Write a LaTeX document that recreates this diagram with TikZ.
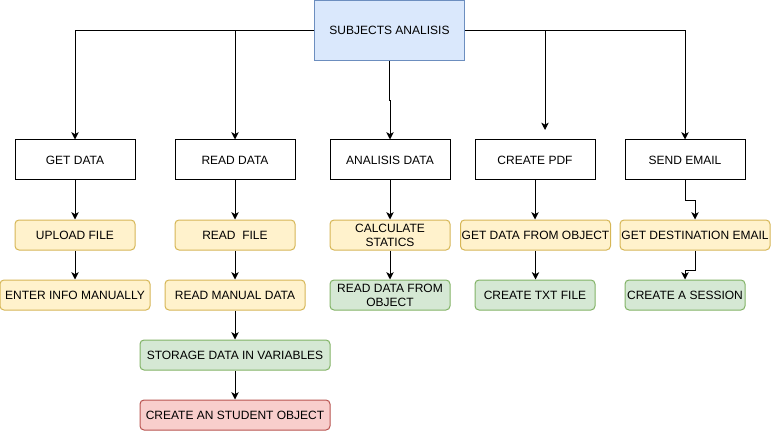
\documentclass[tikz,border=0pt]{standalone}
\usepackage{fontspec}
\setmainfont{Liberation Sans}
\usepackage{xcolor}
\usetikzlibrary{arrows.meta}
\definecolor{bluefill}{HTML}{DAE8FC}
\definecolor{blueline}{HTML}{6C8EBF}
\definecolor{yellowfill}{HTML}{FFF2CC}
\definecolor{yellowline}{HTML}{D6B656}
\definecolor{greenfill}{HTML}{D5E8D4}
\definecolor{greenline}{HTML}{82B366}
\definecolor{redfill}{HTML}{F8CECC}
\definecolor{redline}{HTML}{B85450}
\begin{document}
\begin{tikzpicture}[x=0.75pt,y=-0.75pt,line width=0.75pt,
  every node/.style={font=\fontsize{9}{10.5}\selectfont,align=center,inner sep=0pt},
  box/.style={draw,rectangle,minimum height=30pt},
  mainbox/.style={draw=blueline,fill=bluefill,minimum width=112.5pt,minimum height=45pt},
  yellowbox/.style={draw=yellowline,fill=yellowfill,rounded corners=3pt,minimum height=22.5pt},
  greenbox/.style={draw=greenline,fill=greenfill,rounded corners=3pt,minimum height=22.5pt},
  redbox/.style={draw=redline,fill=redfill,rounded corners=3pt,minimum height=22.5pt},
  arr/.style={-{Stealth[length=5.5pt,width=5.5pt,inset=1.5pt]}}]
\useasboundingbox (0,0) rectangle (771,431);

\node[mainbox] (top) at (389.5,30.5) {SUBJECTS ANALISIS};

\node[box,minimum width=90pt] (getdata) at (75,160) {GET DATA};
\node[box,minimum width=90pt] (readdata) at (235,160) {READ DATA};
\node[box,minimum width=90pt] (analisis) at (390,160) {ANALISIS DATA};
\node[box,minimum width=90pt] (createpdf) at (535,160) {CREATE PDF};
\node[box,minimum width=90pt] (sendemail) at (685,160) {SEND EMAIL};

\node[yellowbox,minimum width=90pt] (upload) at (75,235) {UPLOAD FILE};
\node[yellowbox,minimum width=90pt] (readfile) at (235,235) {READ\ \ FILE};
\node[yellowbox,minimum width=90pt] (calc) at (390,235) {CALCULATE\\STATICS};
\node[yellowbox,minimum width=112.5pt] (getobj) at (535.5,235) {GET DATA FROM OBJECT};
\node[yellowbox,minimum width=112.5pt] (getdest) at (695,235) {GET DESTINATION EMAIL};

\node[yellowbox,minimum width=112.5pt] (enter) at (75,295) {ENTER INFO MANUALLY};
\node[yellowbox,minimum width=105pt] (readmanual) at (235,295) {READ MANUAL DATA};
\node[greenbox,minimum width=90pt] (readobj) at (390,295) {READ DATA FROM\\OBJECT};
\node[greenbox,minimum width=90pt] (txt) at (535,295) {CREATE TXT FILE};
\node[greenbox,minimum width=90pt] (session) at (685,295) {CREATE A SESSION};

\node[greenbox,minimum width=142.5pt] (storage) at (235,355) {STORAGE DATA IN VARIABLES};
\node[redbox,minimum width=142.5pt] (student) at (235,415) {CREATE AN STUDENT OBJECT};

\coordinate (pdfin) at (545,130);

% from the main box
\draw[arr] (top.west) -| (getdata.north);
\draw[arr] (top.west) -| (readdata.north);
\draw[arr] (top.south) -- ++(0,40) -| (analisis.north);
\draw[arr] (top.east) -| (pdfin);
\draw[arr] (top.east) -| (sendemail.north);

% second level
\draw[arr] (getdata) -- (upload);
\draw[arr] (readdata) -- (readfile);
\draw[arr] (analisis) -- (calc);
\draw[arr] (createpdf.south) -- (createpdf.south |- getobj.north);
\draw[arr] (sendemail.south) -- ++(0,20) -| (getdest.north);

% third level
\draw[arr] (upload) -- (enter);
\draw[arr] (readfile) -- (readmanual);
\draw[arr] (calc) -- (readobj);
\draw[arr] (getobj.south) -- (getobj.south |- txt.north);
\draw[arr] (getdest.south) -- ++(0,20) -| (session.north);
\draw[arr] (readmanual) -- (storage);
\draw[arr] (storage) -- (student);
\end{tikzpicture}
\end{document}
